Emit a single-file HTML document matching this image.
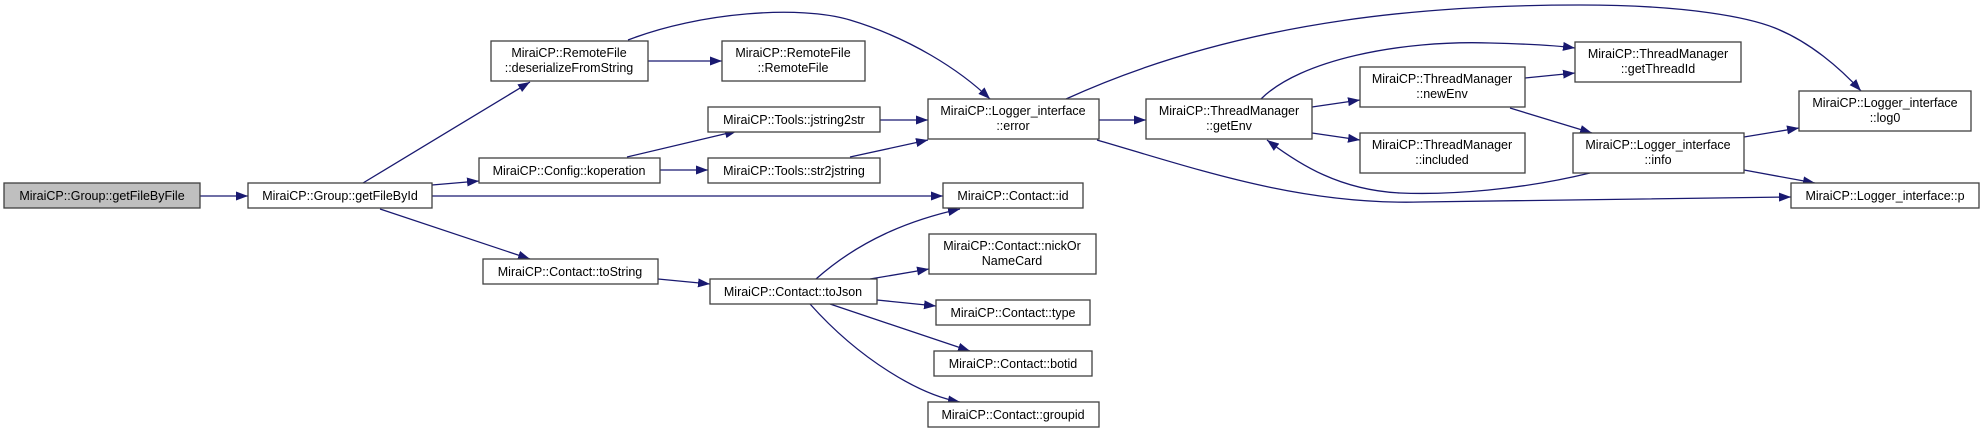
<!DOCTYPE html>
<html><head><meta charset="utf-8"><style>
html,body{margin:0;padding:0;background:#fff;}
svg{display:block;}
text{font-family:"Liberation Sans",Arial,sans-serif;font-size:12.5px;fill:#000;}
.n{fill:#fff;stroke:#404040;stroke-width:1.3;}
.g{fill:#bfbfbf;stroke:#404040;stroke-width:1.3;}
.e{fill:none;stroke:#191970;stroke-width:1.3;}
</style></head><body>
<svg width="1984" height="433" viewBox="0 0 1984 433" xmlns="http://www.w3.org/2000/svg">
<defs>
<marker id="a" markerUnits="userSpaceOnUse" markerWidth="14" markerHeight="10" refX="12" refY="4.5" orient="auto">
<path d="M0,0 L12,4.5 L0,9 Z" fill="#191970"/>
</marker>
</defs>
<g marker-end="url(#a)">
<path class="e" d="M200,196 L248,196"/>
<path class="e" d="M363,183 L530,82"/>
<path class="e" d="M432,185 L479,181"/>
<path class="e" d="M432,196 L943,196"/>
<path class="e" d="M380,209 L530,259"/>
<path class="e" d="M648,61 L722,61"/>
<path class="e" d="M628,40 C700,12 800,5 850,20 C910,38 960,70 990,99"/>
<path class="e" d="M627,157 L737,131"/>
<path class="e" d="M660,170 L708,170"/>
<path class="e" d="M880,120 L928,120"/>
<path class="e" d="M850,157 L928,140"/>
<path class="e" d="M1099,120 L1146,120"/>
<path class="e" d="M1066,99 C1250,15 1450,5 1580,5 C1690,5 1750,18 1775,28 C1810,42 1840,68 1861,91"/>
<path class="e" d="M1097,140 C1200,170 1300,205 1420,202 L1791,197"/>
<path class="e" d="M1312,107 L1360,100"/>
<path class="e" d="M1312,133 L1360,140"/>
<path class="e" d="M1261,99 C1300,60 1400,40 1490,43 C1530,44 1560,46 1575,48"/>
<path class="e" d="M1525,78 L1575,73"/>
<path class="e" d="M1510,108 L1592,133"/>
<path class="e" d="M1590,173 C1520,190 1450,195 1400,193 C1340,190 1300,165 1267,140"/>
<path class="e" d="M1744,137 L1799,128"/>
<path class="e" d="M1744,170 L1815,183"/>
<path class="e" d="M658,279 L710,284"/>
<path class="e" d="M816,279 C860,240 910,220 960,209"/>
<path class="e" d="M870,279 L929,269"/>
<path class="e" d="M877,300 L936,306"/>
<path class="e" d="M830,304 L970,351"/>
<path class="e" d="M810,304 C860,360 920,395 960,402"/>
</g>
<rect class="g" x="4" y="183" width="196" height="25"/><text x="102" y="200" text-anchor="middle">MiraiCP::Group::getFileByFile</text>
<rect class="n" x="248" y="183" width="184" height="25"/><text x="340" y="200" text-anchor="middle">MiraiCP::Group::getFileById</text>
<rect class="n" x="491" y="41" width="157" height="40"/><text x="569" y="57" text-anchor="middle">MiraiCP::RemoteFile</text><text x="569" y="72" text-anchor="middle">::deserializeFromString</text>
<rect class="n" x="479" y="158" width="181" height="25"/><text x="569" y="175" text-anchor="middle">MiraiCP::Config::koperation</text>
<rect class="n" x="483" y="259" width="175" height="25"/><text x="570" y="276" text-anchor="middle">MiraiCP::Contact::toString</text>
<rect class="n" x="722" y="41" width="143" height="40"/><text x="793" y="57" text-anchor="middle">MiraiCP::RemoteFile</text><text x="793" y="72" text-anchor="middle">::RemoteFile</text>
<rect class="n" x="708" y="107" width="172" height="25"/><text x="794" y="124" text-anchor="middle">MiraiCP::Tools::jstring2str</text>
<rect class="n" x="708" y="158" width="172" height="25"/><text x="794" y="175" text-anchor="middle">MiraiCP::Tools::str2jstring</text>
<rect class="n" x="928" y="99" width="171" height="40"/><text x="1013" y="115" text-anchor="middle">MiraiCP::Logger_interface</text><text x="1013" y="130" text-anchor="middle">::error</text>
<rect class="n" x="1146" y="99" width="166" height="40"/><text x="1229" y="115" text-anchor="middle">MiraiCP::ThreadManager</text><text x="1229" y="130" text-anchor="middle">::getEnv</text>
<rect class="n" x="943" y="183" width="140" height="25"/><text x="1013" y="200" text-anchor="middle">MiraiCP::Contact::id</text>
<rect class="n" x="929" y="234" width="167" height="40"/><text x="1012" y="250" text-anchor="middle">MiraiCP::Contact::nickOr</text><text x="1012" y="265" text-anchor="middle">NameCard</text>
<rect class="n" x="710" y="279" width="167" height="25"/><text x="793" y="296" text-anchor="middle">MiraiCP::Contact::toJson</text>
<rect class="n" x="936" y="300" width="154" height="25"/><text x="1013" y="317" text-anchor="middle">MiraiCP::Contact::type</text>
<rect class="n" x="934" y="351" width="158" height="25"/><text x="1013" y="368" text-anchor="middle">MiraiCP::Contact::botid</text>
<rect class="n" x="928" y="402" width="171" height="25"/><text x="1013" y="419" text-anchor="middle">MiraiCP::Contact::groupid</text>
<rect class="n" x="1360" y="67" width="165" height="40"/><text x="1442" y="83" text-anchor="middle">MiraiCP::ThreadManager</text><text x="1442" y="98" text-anchor="middle">::newEnv</text>
<rect class="n" x="1360" y="133" width="165" height="40"/><text x="1442" y="149" text-anchor="middle">MiraiCP::ThreadManager</text><text x="1442" y="164" text-anchor="middle">::included</text>
<rect class="n" x="1575" y="42" width="166" height="40"/><text x="1658" y="58" text-anchor="middle">MiraiCP::ThreadManager</text><text x="1658" y="73" text-anchor="middle">::getThreadId</text>
<rect class="n" x="1573" y="133" width="171" height="40"/><text x="1658" y="149" text-anchor="middle">MiraiCP::Logger_interface</text><text x="1658" y="164" text-anchor="middle">::info</text>
<rect class="n" x="1799" y="91" width="172" height="40"/><text x="1885" y="107" text-anchor="middle">MiraiCP::Logger_interface</text><text x="1885" y="122" text-anchor="middle">::log0</text>
<rect class="n" x="1791" y="183" width="188" height="25"/><text x="1885" y="200" text-anchor="middle">MiraiCP::Logger_interface::p</text>
</svg>
</body></html>
